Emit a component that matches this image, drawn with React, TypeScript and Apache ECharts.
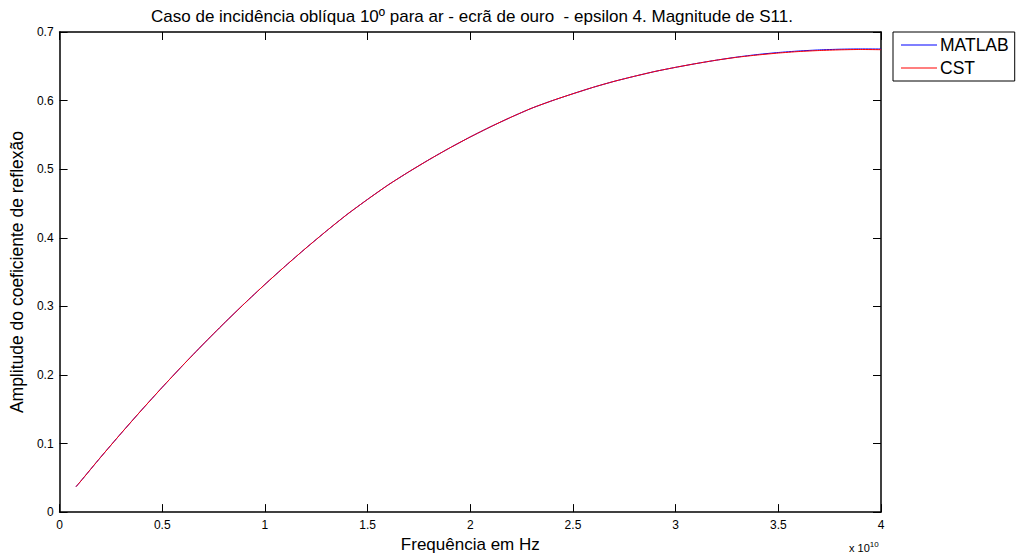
import React, { useEffect, useRef } from "react";
import * as echarts from "echarts";

// Frequency in units of 10^10 Hz
const freq = [
  0.08, 0.1, 0.2, 0.3, 0.4, 0.5, 0.6, 0.7, 0.8, 0.9, 1.0, 1.1, 1.2, 1.3, 1.4,
  1.5, 1.6, 1.7, 1.8, 1.9, 2.0, 2.1, 2.2, 2.3, 2.4, 2.5, 2.6, 2.7, 2.8, 2.9,
  3.0, 3.1, 3.2, 3.3, 3.4, 3.5, 3.6, 3.7, 3.8, 3.9, 4.0,
];

// |S11| computed in MATLAB
const matlabS11 = [
  0.037, 0.044, 0.08, 0.115, 0.149, 0.182, 0.214, 0.245, 0.275, 0.304, 0.332,
  0.359, 0.385, 0.41, 0.434, 0.456, 0.477, 0.496, 0.514, 0.531, 0.547, 0.562,
  0.576, 0.589, 0.6, 0.61, 0.6195, 0.628, 0.6355, 0.6425, 0.6485, 0.654, 0.659,
  0.6635, 0.6672, 0.6701, 0.6723, 0.6739, 0.6749, 0.6753, 0.6752,
];

// |S11| simulated in CST
const cstS11 = [
  0.037, 0.044, 0.08, 0.115, 0.149, 0.182, 0.214, 0.245, 0.275, 0.304, 0.332,
  0.359, 0.385, 0.41, 0.434, 0.456, 0.477, 0.496, 0.514, 0.531, 0.547, 0.562,
  0.576, 0.589, 0.6, 0.61, 0.6195, 0.628, 0.6355, 0.6425, 0.6485, 0.654, 0.659,
  0.6632, 0.6665, 0.6693, 0.6715, 0.673, 0.674, 0.6745, 0.6742,
];

const FONT = "Liberation Sans, Arial, sans-serif";

export default function App() {
  const ref = useRef<HTMLDivElement>(null);

  useEffect(() => {
    if (!ref.current) return;
    const chart = echarts.init(ref.current, null, { renderer: "svg" });

    const tickStyle = { show: true, inside: true, length: 8, lineStyle: { color: "#000", width: 1 } };
    const lineStyle = { show: true, onZero: false, lineStyle: { color: "#000", width: 1.5 } };

    chart.setOption({
      animation: false,
      backgroundColor: "#fff",
      textStyle: { fontFamily: FONT },
      title: {
        text: "Caso de incidência oblíqua 10º para ar - ecrã de ouro  - epsilon 4. Magnitude de S11.",
        left: 467,
        textAlign: "center",
        top: 3,
        textStyle: { fontFamily: FONT, fontSize: 17, fontWeight: "normal", color: "#000" },
      },
      legend: {
        orient: "vertical",
        left: 893,
        top: 32,
        padding: [4, 6, 4, 8],
        itemGap: 5,
        itemWidth: 36,
        itemHeight: 1,
        icon: "rect",
        borderColor: "#000",
        borderWidth: 1,
        backgroundColor: "#fff",
        textStyle: { fontFamily: FONT, fontSize: 17.5, color: "#000", padding: [0, 0, 0, -2] },
        data: ["MATLAB", "CST"],
      },
      grid: { left: 57, right: 136, top: 32, bottom: 41 },
      xAxis: [
        {
          type: "value",
          min: 0,
          max: 4,
          interval: 0.5,
          name: "Frequência em Hz",
          nameLocation: "middle",
          nameGap: 22,
          nameTextStyle: { fontFamily: FONT, fontSize: 17, color: "#000" },
          axisLine: lineStyle,
          axisTick: tickStyle,
          axisLabel: { fontFamily: FONT, fontSize: 12, color: "#000", margin: 7 },
          splitLine: { show: false },
        },
        {
          type: "value",
          position: "top",
          min: 0,
          max: 4,
          interval: 0.5,
          axisLine: lineStyle,
          axisTick: tickStyle,
          axisLabel: { show: false },
          splitLine: { show: false },
        },
      ],
      yAxis: [
        {
          type: "value",
          min: 0,
          max: 0.7,
          interval: 0.1,
          name: "Amplitude do coeficiente de reflexão",
          nameLocation: "middle",
          nameGap: 30,
          nameTextStyle: { fontFamily: FONT, fontSize: 17.5, color: "#000" },
          axisLine: lineStyle,
          axisTick: tickStyle,
          axisLabel: { fontFamily: FONT, fontSize: 12, color: "#000", margin: 6 },
          splitLine: { show: false },
        },
        {
          type: "value",
          position: "right",
          min: 0,
          max: 0.7,
          interval: 0.1,
          axisLine: lineStyle,
          axisTick: tickStyle,
          axisLabel: { show: false },
          splitLine: { show: false },
        },
      ],
      graphic: [
        {
          type: "text",
          left: 849,
          top: 540,
          style: {
            text: "x 10{sup|10}",
            fontFamily: FONT,
            fontSize: 11,
            fill: "#000",
            rich: { sup: { fontSize: 8, verticalAlign: "top", padding: [0, 0, 8, 0] } },
          },
        },
      ],
      series: [
        {
          name: "MATLAB",
          type: "line",
          showSymbol: false,
          smooth: 0.2,
          color: "#0000ff",
          lineStyle: { width: 1, color: "#0000ff" },
          data: freq.map((f, i) => [f, matlabS11[i]]),
        },
        {
          name: "CST",
          type: "line",
          showSymbol: false,
          smooth: 0.2,
          color: "#ff0000",
          lineStyle: { width: 1, color: "#ff0000" },
          data: freq.map((f, i) => [f, cstS11[i]]),
        },
      ],
    });

    return () => chart.dispose();
  }, []);

  return (
    <div
      ref={ref}
      style={{ position: "absolute", left: 0, top: 0, width: 1017, height: 558, background: "#fff" }}
    />
  );
}
